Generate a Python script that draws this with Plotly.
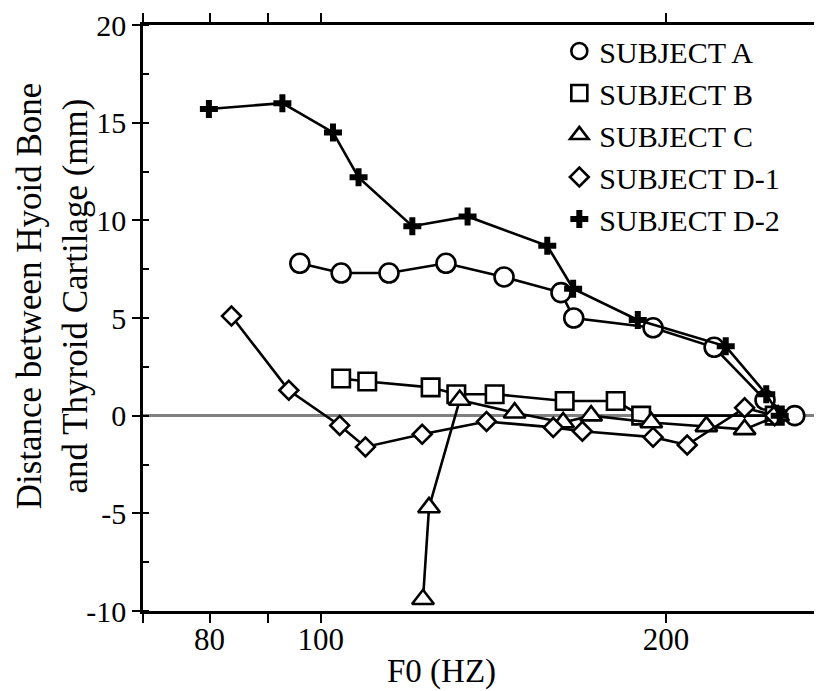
import plotly.graph_objects as go
import math

# Subject data: F0 (Hz) and distance (mm)
a_f0 = [95.9, 104.2, 114.7, 128.6, 144.5, 162.0, 166.2, 194.9, 220.3, 244.0, 259.0]
a_dist = [7.8, 7.3, 7.3, 7.8, 7.1, 6.3, 5.0, 4.5, 3.5, 0.8, 0.0]

b_f0 = [104.2, 109.8, 124.7, 131.3, 141.8, 163.2, 180.8, 190.3, 248.8]
b_dist = [1.9, 1.75, 1.45, 1.1, 1.1, 0.75, 0.75, 0.0, 0.0]

c_f0 = [122.8, 124.3, 132.2, 147.6, 162.7, 172.1, 194.2, 216.9, 234.2, 250.5]
c_dist = [-9.4, -4.7, 0.8, 0.15, -0.35, 0.0, -0.35, -0.55, -0.7, 0.0]

d1_f0 = [83.6, 93.8, 103.9, 109.4, 122.6, 139.5, 159.5, 169.1, 194.9, 208.7, 234.2, 248.8]
d1_dist = [5.1, 1.3, -0.5, -1.6, -0.95, -0.3, -0.6, -0.8, -1.1, -1.5, 0.4, 0.0]

d2_f0 = [79.9, 92.6, 102.5, 107.9, 120.2, 134.3, 157.6, 166.0, 189.0, 225.5, 244.6, 251.3]
d2_dist = [15.7, 16.0, 14.5, 12.2, 9.7, 10.2, 8.7, 6.5, 4.9, 3.55, 1.1, 0.0]

names = ["SUBJECT A", "SUBJECT B", "SUBJECT C", "SUBJECT D-1", "SUBJECT D-2"]
x_tickvals = [70, 80, 90, 100, 200]
x_ticktext = ["", "80", "", "100", "200"]
y_tickvals = [-10, -5, 0, 5, 10, 15, 20]
y_ticktext = ["-10", "-5", "0", "5", "10", "15", "20"]

FONT = "Liberation Serif"
LW = 2.6
series = [
    (a_f0, a_dist, dict(symbol="circle", size=19, color="white", line=dict(color="black", width=LW))),
    (b_f0, b_dist, dict(symbol="square", size=17.5, color="white", line=dict(color="black", width=LW))),
    (c_f0, c_dist, dict(symbol="triangle-up", size=19, color="white", line=dict(color="black", width=LW))),
    (d1_f0, d1_dist, dict(symbol="diamond", size=14.5, color="white", line=dict(color="black", width=LW))),
    (d2_f0, d2_dist, dict(symbol="cross", size=15, color="black", line=dict(color="black", width=0))),
]

fig = go.Figure()
for (xs, ys, mk), nm in zip(series, names):
    fig.add_trace(go.Scatter(x=xs, y=ys, mode="lines+markers", name=nm, showlegend=False,
                             line=dict(color="black", width=LW), marker=mk))
for (xs, ys, mk), nm in zip(series, names):
    fig.add_trace(go.Scatter(x=[None], y=[None], mode="markers", name=nm, marker=mk))

fig.update_layout(
    width=822, height=691,
    margin=dict(l=135, r=0, t=17, b=88),
    plot_bgcolor="white", paper_bgcolor="white",
    font=dict(family=FONT, size=30, color="black"),
    showlegend=True,
    legend=dict(x=0.606, y=1.0, xanchor="left", yanchor="top", bgcolor="rgba(0,0,0,0)",
                font=dict(family=FONT, size=30, color="black"), tracegroupgap=0,
                itemwidth=30),
    annotations=[
        dict(text="F0 (HZ)", xref="paper", yref="paper", x=0.434, y=-0.104,
             xanchor="center", yanchor="middle", showarrow=False,
             font=dict(family=FONT, size=33, color="black")),
        dict(text="Distance between Hyoid Bone<br>and Thyroid Cartilage (mm)",
             xref="paper", yref="paper", x=-0.132, y=0.5375, textangle=-90,
             xanchor="center", yanchor="middle", showarrow=False,
             font=dict(family=FONT, size=35, color="black")),
    ],
)
fig.update_xaxes(type="log", range=[math.log10(70), math.log10(278)],
                 tickvals=x_tickvals, ticktext=x_ticktext,
                 ticks="outside", ticklen=9, tickwidth=2.2, tickcolor="black",
                 showline=True, linecolor="black", linewidth=2.6, mirror="ticks",
                 showgrid=False, zeroline=False, ticklabelstandoff=-10,
                 tickfont=dict(family=FONT, size=31))
fig.update_yaxes(range=[-10, 20], tickvals=y_tickvals, ticktext=y_ticktext,
                 ticks="outside", ticklen=8, tickwidth=2.2, tickcolor="black",
                 minor=dict(ticks="inside", dtick=2.5, ticklen=6, tickwidth=2, tickcolor="black", showgrid=False),
                 showline=True, linecolor="black", linewidth=2.6,
                 showgrid=False, zeroline=True, zerolinecolor="#808080", zerolinewidth=3,
                 tickfont=dict(family=FONT, size=30))

fig.write_html("out.html")
